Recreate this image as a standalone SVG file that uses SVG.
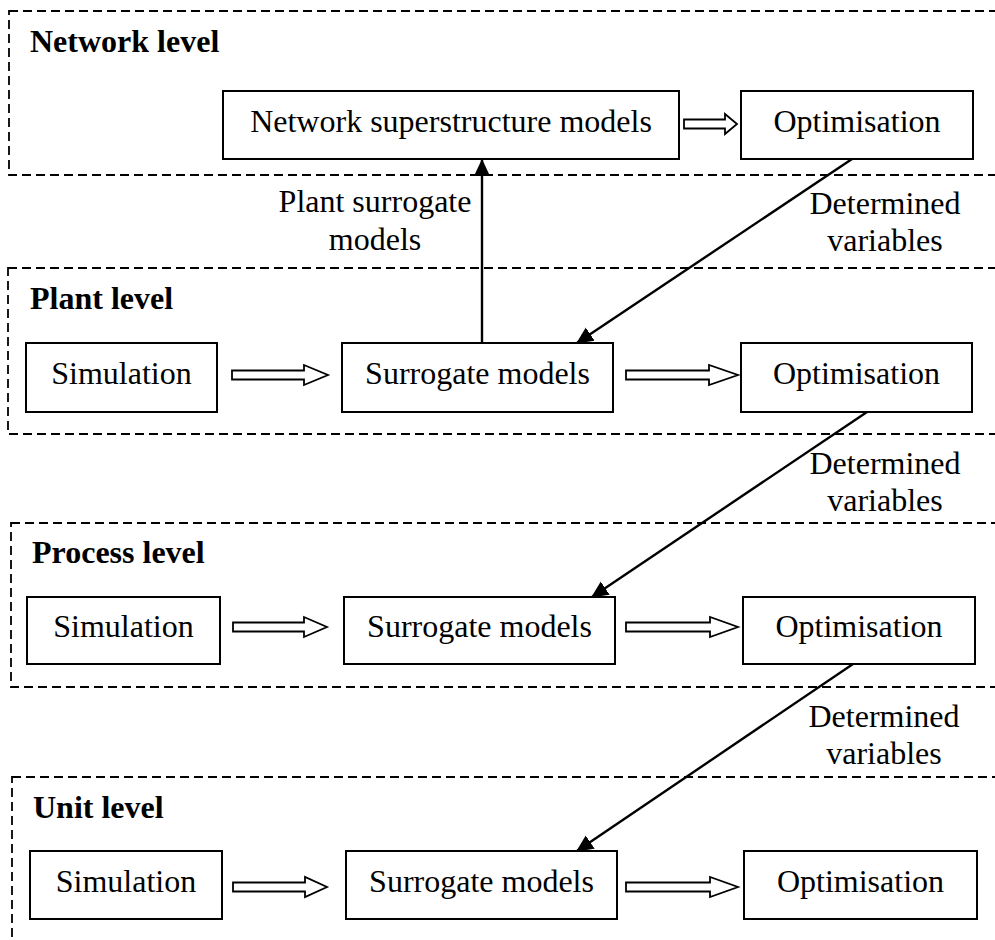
<svg xmlns="http://www.w3.org/2000/svg" width="995" height="940" viewBox="0 0 995 940">
<style>
  text { font-family: "Liberation Serif", "Times New Roman", serif; font-size: 32px; fill: #000; }
  .title { font-weight: bold; }
  .lbl { text-anchor: middle; }
  .level { fill: none; stroke: #000; stroke-width: 1.8; stroke-dasharray: 9 5; }
  .box { fill: #fff; stroke: #000; stroke-width: 2; }
  .hollow { fill: #fff; stroke: #000; stroke-width: 1.8; stroke-linejoin: miter; }
  .conn { fill: none; stroke: #000; stroke-width: 2.4; marker-end: url(#ah); }
</style>
<defs>
  <marker id="ah" viewBox="0 0 16 16" refX="15" refY="8" markerWidth="17" markerHeight="17" markerUnits="userSpaceOnUse" orient="auto">
    <path d="M0,0.5 L16,8 L0,15.5 Z" fill="#000"/>
  </marker>
</defs>
<rect width="995" height="940" fill="#fff"/>

<g id="levels">
  <g id="network-level">
    <rect class="level" x="9" y="11" width="1000" height="164"/>
    <text class="title" x="30" y="52">Network level</text>
  </g>
  <g id="plant-level">
    <rect class="level" x="8" y="268" width="1000" height="166"/>
    <text class="title" x="30" y="309">Plant level</text>
  </g>
  <g id="process-level">
    <rect class="level" x="11" y="523" width="1000" height="164"/>
    <text class="title" x="32" y="563">Process level</text>
  </g>
  <g id="unit-level">
    <rect class="level" x="12" y="777" width="1000" height="200"/>
    <text class="title" x="33" y="818">Unit level</text>
  </g>
</g>

<g id="net-super">
  <rect class="box" x="223" y="91" width="456" height="68"/>
  <text class="lbl" x="451" y="132">Network superstructure models</text>
</g>
<g id="net-opt">
  <rect class="box" x="741" y="91" width="232" height="68"/>
  <text class="lbl" x="857" y="132">Optimisation</text>
</g>

<g id="plant-sim">
  <rect class="box" x="26" y="343" width="191" height="69"/>
  <text class="lbl" x="121.5" y="384">Simulation</text>
</g>
<g id="plant-sur">
  <rect class="box" x="342" y="343" width="271" height="69"/>
  <text class="lbl" x="477.5" y="384">Surrogate models</text>
</g>
<g id="plant-opt">
  <rect class="box" x="741" y="343" width="231" height="69"/>
  <text class="lbl" x="856.5" y="384">Optimisation</text>
</g>

<g id="proc-sim">
  <rect class="box" x="27" y="597" width="193" height="67"/>
  <text class="lbl" x="123.5" y="637">Simulation</text>
</g>
<g id="proc-sur">
  <rect class="box" x="344" y="597" width="271" height="67"/>
  <text class="lbl" x="479.5" y="637">Surrogate models</text>
</g>
<g id="proc-opt">
  <rect class="box" x="743" y="597" width="232" height="67"/>
  <text class="lbl" x="859" y="637">Optimisation</text>
</g>

<g id="unit-sim">
  <rect class="box" x="30" y="851" width="192" height="68"/>
  <text class="lbl" x="126" y="892">Simulation</text>
</g>
<g id="unit-sur">
  <rect class="box" x="346" y="851" width="271" height="68"/>
  <text class="lbl" x="481.5" y="892">Surrogate models</text>
</g>
<g id="unit-opt">
  <rect class="box" x="744" y="851" width="233" height="68"/>
  <text class="lbl" x="860.5" y="892">Optimisation</text>
</g>

<g id="connectors">
  <path class="hollow" d="M684,119.5 L725,119.5 L725,114 L737,124 L725,134 L725,128.5 L684,128.5 Z"/>
  <path class="hollow" d="M232,370.5 L304,370.5 L304,365 L328,375 L304,385 L304,379.5 L232,379.5 Z"/>
  <path class="hollow" d="M626,370.5 L709,370.5 L709,365 L738,375 L709,385 L709,379.5 L626,379.5 Z"/>
  <path class="hollow" d="M233,622.5 L304,622.5 L304,617 L327,627 L304,637 L304,631.5 L233,631.5 Z"/>
  <path class="hollow" d="M626,622.5 L710,622.5 L710,617 L738,627 L710,637 L710,631.5 L626,631.5 Z"/>
  <path class="hollow" d="M233,882.5 L305,882.5 L305,877 L327,887 L305,897 L305,891.5 L233,891.5 Z"/>
  <path class="hollow" d="M626,882.5 L710,882.5 L710,877 L738,887 L710,897 L710,891.5 L626,891.5 Z"/>

  <line class="conn" x1="482" y1="343" x2="482" y2="160"/>
  <line class="conn" x1="852" y1="159" x2="577" y2="343"/>
  <line class="conn" x1="867" y1="412" x2="592" y2="597"/>
  <line class="conn" x1="853" y1="664" x2="577" y2="851"/>

  <text class="lbl" x="375" y="212">Plant surrogate</text>
  <text class="lbl" x="375" y="250">models</text>
  <text class="lbl" x="885" y="214">Determined</text>
  <text class="lbl" x="885" y="251">variables</text>
  <text class="lbl" x="885" y="474">Determined</text>
  <text class="lbl" x="885" y="511">variables</text>
  <text class="lbl" x="884" y="727">Determined</text>
  <text class="lbl" x="884" y="764">variables</text>
</g>
</svg>
